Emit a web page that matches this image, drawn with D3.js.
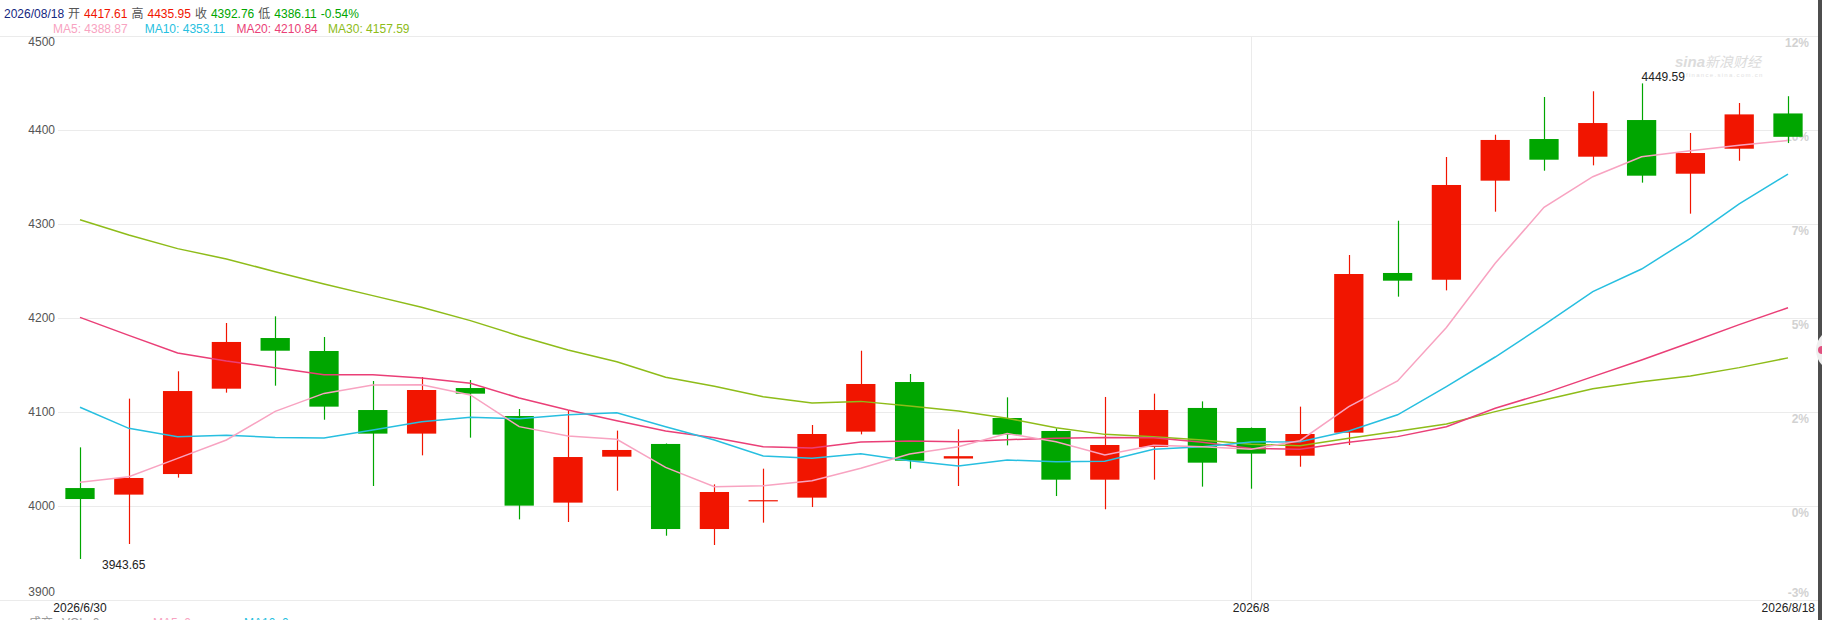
<!DOCTYPE html>
<html>
<head>
<meta charset="utf-8">
<script src="https://cdn.jsdelivr.net/npm/d3@7"></script>
<style>
  body { margin: 0; background: #fff; }
  svg { display: block; font-family: "Liberation Sans", Arial, "Noto Sans CJK SC", sans-serif; }
</style>
</head>
<body>
<div class="container"></div>
<script>
// daily candles
const dates = ["2026/6/30", "2026/7/1", "2026/7/2", "2026/7/3", "2026/7/6", "2026/7/7", "2026/7/8", "2026/7/9",
  "2026/7/10", "2026/7/13", "2026/7/14", "2026/7/15", "2026/7/16", "2026/7/17", "2026/7/20", "2026/7/21",
  "2026/7/22", "2026/7/23", "2026/7/24", "2026/7/27", "2026/7/28", "2026/7/29", "2026/7/30", "2026/7/31",
  "2026/8/3", "2026/8/4", "2026/8/5", "2026/8/6", "2026/8/7", "2026/8/10", "2026/8/11", "2026/8/12",
  "2026/8/13", "2026/8/14", "2026/8/17", "2026/8/18"];
const opens = [4019.1, 4012.1, 4034.0, 4124.8, 4178.7, 4164.9, 4102.1, 4077.0, 4125.5, 4095.7, 4003.6, 4052.5,
  4066.0, 3975.5, 4005.8, 4008.9, 4079.1, 4131.9, 4050.5, 4093.6, 4079.8, 4028.0, 4062.8, 4104.3,
  4083.0, 4053.5, 4078.0, 4247.9, 4240.7, 4346.1, 4390.4, 4371.6, 4410.6, 4353.5, 4380.1, 4417.61];
const highs = [4062.4, 4114.2, 4143.3, 4194.7, 4201.8, 4179.8, 4133.0, 4137.2, 4134.0, 4103.2, 4102.1, 4080.2,
  4066.5, 4023.0, 4039.7, 4086.2, 4165.2, 4140.4, 4081.6, 4115.6, 4082.6, 4116.0, 4119.5, 4111.3,
  4083.5, 4105.7, 4267.0, 4303.5, 4371.3, 4395.0, 4435.1, 4441.2, 4449.59, 4396.8, 4428.7, 4435.95];
const lows = [3943.65, 3959.6, 4030.2, 4120.6, 4128.0, 4091.8, 4021.3, 4053.9, 4072.7, 3985.8, 3983.0, 4016.3,
  3968.4, 3958.5, 3982.3, 3998.9, 4076.2, 4039.7, 4021.3, 4064.5, 4010.6, 3996.5, 4028.0, 4020.6,
  4018.4, 4041.8, 4064.9, 4222.7, 4229.4, 4313.1, 4356.7, 4362.4, 4344.0, 4311.0, 4367.3, 4386.11];
const closes = [4007.4, 4029.8, 4122.3, 4174.5, 4165.2, 4105.7, 4077.0, 4123.4, 4119.5, 4000.4, 4052.1, 4059.6,
  3975.5, 4014.9, 4006.2, 4076.6, 4129.8, 4048.2, 4053.0, 4075.9, 4028.0, 4064.9, 4102.1, 4046.1,
  4055.7, 4076.6, 4246.8, 4239.7, 4341.5, 4389.4, 4368.4, 4407.4, 4351.4, 4375.5, 4416.6, 4392.76];

const ma5 = [4025.2, 4031.2, 4050.7, 4070.2, 4100.7, 4119.8, 4128.7, 4129.0, 4118.1, 4084.4, 4074.5, 4071.0,
  4041.1, 4020.5, 4021.6, 4026.9, 4040.1, 4055.3, 4063.1, 4077.0, 4068.4, 4054.3, 4064.5, 4063.1,
  4060.3, 4069.5, 4105.7, 4133.0, 4190.0, 4258.2, 4317.7, 4350.3, 4371.6, 4378.0, 4383.7, 4388.87];
const ma10 = [4105.0, 4082.6, 4073.8, 4075.2, 4073.0, 4072.3, 4080.8, 4089.7, 4094.3, 4092.9, 4097.2, 4099.3,
  4084.4, 4070.2, 4053.2, 4050.7, 4055.7, 4048.2, 4042.6, 4048.9, 4047.2, 4047.5, 4060.3, 4063.1,
  4068.1, 4068.4, 4079.8, 4097.0, 4127.0, 4158.5, 4192.6, 4228.0, 4252.1, 4284.8, 4321.3, 4353.11];
const ma20 = [4200.7, 4181.5, 4162.8, 4154.2, 4147.2, 4139.7, 4139.7, 4136.2, 4130.5, 4114.9, 4102.1, 4090.8,
  4079.8, 4072.7, 4063.1, 4061.7, 4068.1, 4069.1, 4068.4, 4070.6, 4072.0, 4073.0, 4072.7, 4067.8,
  4061.3, 4060.3, 4067.8, 4073.8, 4084.4, 4103.9, 4119.8, 4137.6, 4155.3, 4174.0, 4193.0, 4210.84];
const ma30 = [4304.6, 4288.3, 4273.8, 4262.8, 4249.3, 4236.2, 4223.8, 4211.4, 4197.2, 4180.9, 4166.0, 4153.5,
  4136.9, 4127.3, 4116.3, 4109.6, 4111.3, 4106.4, 4101.1, 4093.3, 4083.3, 4076.2, 4073.8, 4070.2,
  4065.6, 4064.2, 4072.0, 4079.4, 4087.2, 4100.4, 4112.8, 4124.8, 4132.3, 4138.3, 4147.2, 4157.59];

const yTicks = [3900, 4000, 4100, 4200, 4300, 4400, 4500];
const pctLabels = ["-3%", "0%", "2%", "5%", "7%", "10%", "12%"];
const dateTicks = ["2026/6/30", "2026/8/3", "2026/8/18"];
const dateTickLabels = ["2026/6/30", "2026/8", "2026/8/18"];

const RED = "#f11500";
const GREEN = "#00a600";
const maColors = ["#f8a3c1", "#27bfe0", "#ea3f77", "#8ebc19"];

let width = 1822, height = 620;
let svg = d3.select(".container")
  .append("svg")
  .attr("width", width)
  .attr("height", height);

let x = d3.scalePoint()
  .domain(dates)
  .range([80, 1788]);
let y = d3.scaleLinear()
  .domain([3900, 4500])
  .range([600, 36]);
let bodyW = x.step() * 0.6;

// grid
let grid = svg.append("g").attr("class", "grid");
yTicks.forEach(t => {
  grid.append("line")
    .attr("x1", 0)
    .attr("x2", 1818)
    .attr("y1", Math.round(y(t)) + 0.5)
    .attr("y2", Math.round(y(t)) + 0.5)
    .attr("stroke", "#ebebeb")
    .attr("stroke-width", 1);
});
grid.append("line")
  .attr("x1", Math.round(x("2026/8/3")) + 0.5)
  .attr("x2", Math.round(x("2026/8/3")) + 0.5)
  .attr("y1", 36)
  .attr("y2", 600)
  .attr("stroke", "#ebebeb");

// left price axis
let axisL = svg.append("g").attr("class", "axis-left");
yTicks.forEach((t, i) => {
  let ty = y(t) + 4;
  if (i == 0) ty = y(t) - 4;
  if (i == yTicks.length - 1) ty = y(t) + 10;
  if (i > 0 && i < yTicks.length - 1) {
    axisL.append("rect")
      .attr("x", 0)
      .attr("y", y(t) - 3)
      .attr("width", 58)
      .attr("height", 6)
      .attr("fill", "#fff");
  }
  axisL.append("text")
    .attr("x", 55)
    .attr("y", ty)
    .attr("text-anchor", "end")
    .attr("font-size", 12)
    .attr("fill", "#555")
    .text(t);
});

// right percent axis, sits under the candles
let axisR = svg.append("g").attr("class", "axis-right");
yTicks.forEach((t, i) => {
  axisR.append("text")
    .attr("x", 1809)
    .attr("y", i == 0 ? y(t) - 3 : y(t) + 11)
    .attr("text-anchor", "end")
    .attr("font-size", 12)
    .attr("font-weight", "bold")
    .attr("fill", "#d2d2d2")
    .text(pctLabels[i]);
});

// watermark
let wm = svg.append("g").attr("class", "watermark");
wm.append("text")
  .attr("x", 1675)
  .attr("y", 67)
  .attr("font-size", 15)
  .attr("font-style", "italic")
  .attr("fill", "#dcdcdc")
  .call(t => {
    t.append("tspan").attr("font-weight", "bold").text("sina");
    t.append("tspan").attr("font-family", "Noto Sans CJK SC").attr("font-size", 14).text("新浪财经");
  });
wm.append("text")
  .attr("x", 1686)
  .attr("y", 77)
  .attr("font-size", 6)
  .attr("fill", "#e2e2e2")
  .attr("letter-spacing", 1.3)
  .text("finance.sina.com.cn");

// candles
let candles = svg.append("g").attr("class", "candles");
dates.forEach((d, i) => {
  const up = closes[i] >= opens[i];
  const color = up ? RED : GREEN;
  const cx = Math.round(x(d)) + 0.5;
  candles.append("line")
    .attr("x1", cx)
    .attr("x2", cx)
    .attr("y1", y(highs[i]))
    .attr("y2", y(lows[i]))
    .attr("stroke", color)
    .attr("stroke-width", 1.2);
  const top = y(Math.max(opens[i], closes[i]));
  const bot = y(Math.min(opens[i], closes[i]));
  candles.append("rect")
    .attr("x", x(d) - bodyW / 2)
    .attr("y", top)
    .attr("width", bodyW)
    .attr("height", Math.max(1.2, bot - top))
    .attr("fill", color);
});

// moving averages
let lines = svg.append("g").attr("class", "ma");
[ma30, ma20, ma10, ma5].forEach((series, k) => {
  lines.append("path")
    .datum(series)
    .attr("fill", "none")
    .attr("stroke", maColors[3 - k])
    .attr("stroke-width", 1.5)
    .attr("d", d3.line()
      .x((v, i) => x(dates[i]))
      .y(v => y(v)));
});

// high / low marks
let iMax = d3.maxIndex(highs);
let iMin = d3.minIndex(lows);
svg.append("text")
  .attr("x", x(dates[iMax]))
  .attr("y", y(highs[iMax]) - 2)
  .attr("font-size", 12)
  .attr("fill", "#222")
  .text(highs[iMax].toFixed(2));
svg.append("text")
  .attr("x", x(dates[iMin]) + 22)
  .attr("y", y(lows[iMin]) + 10)
  .attr("font-size", 12)
  .attr("fill", "#222")
  .text(lows[iMin].toFixed(2));

// date labels
dateTicks.forEach((d, i) => {
  svg.append("text")
    .attr("x", i == 2 ? 1815 : x(d))
    .attr("y", 612)
    .attr("text-anchor", i == 2 ? "end" : "middle")
    .attr("font-size", 12)
    .attr("fill", "#222")
    .text(dateTickLabels[i]);
});

// header legend
const last = dates.length - 1;
const prevClose = closes[last - 1];
const chg = (closes[last] - prevClose) / prevClose * 100;
const colorOf = v => v >= prevClose ? RED : GREEN;
let head = [
  ["2026/08/18", "#15277f"],
  ["开", "#555"], [opens[last].toFixed(2), colorOf(opens[last])],
  ["高", "#555"], [highs[last].toFixed(2), colorOf(highs[last])],
  ["收", "#555"], [closes[last].toFixed(2), colorOf(closes[last])],
  ["低", "#555"], [lows[last].toFixed(2), colorOf(lows[last])],
  [chg.toFixed(2) + "%", chg >= 0 ? RED : GREEN]
];
let hx = 4;
head.forEach(h => {
  let t = svg.append("text")
    .attr("x", hx)
    .attr("y", 18)
    .attr("font-size", 12)
    .attr("fill", h[1])
    .text(h[0]);
  hx += t.node().getComputedTextLength() + 4;
});

const maNames = ["MA5", "MA10", "MA20", "MA30"];
[ma5, ma10, ma20, ma30].forEach((s, k) => {
  svg.append("text")
    .attr("x", 53 + k * 91.7)
    .attr("y", 33)
    .attr("font-size", 12)
    .attr("fill", maColors[k])
    .text(maNames[k] + ": " + s[last].toFixed(2));
});

// volume pane header (cut off at the bottom, as in the original)
let vol = [["成交", "#999", 29], ["VOL: 0", "#999", 62], ["MA5: 0", maColors[0], 153], ["MA10: 0", maColors[1], 244]];
vol.forEach(v => {
  svg.append("text")
    .attr("x", v[2])
    .attr("y", 627)
    .attr("font-size", 12)
    .attr("fill", v[1])
    .text(v[0]);
});

// right edge frame
svg.append("rect")
  .attr("x", 1818)
  .attr("y", 0)
  .attr("width", 4)
  .attr("height", height)
  .attr("fill", "#4d4d4d");
svg.append("circle")
  .attr("cx", 1838)
  .attr("cy", 350)
  .attr("r", 22)
  .attr("fill", "#efefef");
svg.append("circle")
  .attr("cx", 1822)
  .attr("cy", 350)
  .attr("r", 4)
  .attr("fill", "#e0507f");
</script>
</body>
</html>
